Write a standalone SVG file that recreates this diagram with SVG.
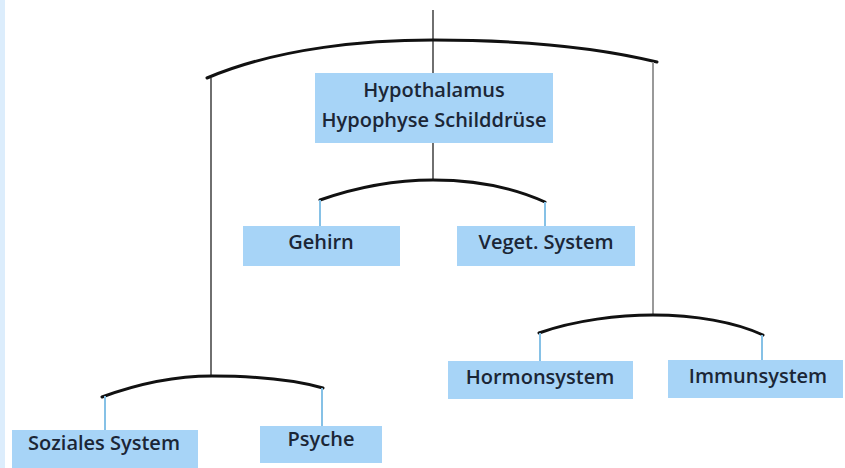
<svg xmlns="http://www.w3.org/2000/svg" width="845" height="468" viewBox="0 0 845 468">
<style>
.box{fill:#a7d4f7}
.lbl{font-family:"Open Sans","Noto Sans","Liberation Sans",sans-serif;font-size:20px;font-weight:600;fill:#1b2636;text-anchor:middle}
.arc{fill:none;stroke:#111;stroke-width:3;stroke-linecap:round}
.vl{fill:none;stroke:#222;stroke-width:1.3}
.vg{fill:none;stroke:#999;stroke-width:2}
.stub{fill:none;stroke:#86c1e6;stroke-width:2}
</style>
<rect x="0" y="0" width="845" height="468" fill="#ffffff"/>
<rect x="0" y="0" width="5" height="468" fill="#dcedfc"/>
<g id="connectors">
<line class="vl" x1="433" y1="10" x2="433" y2="73"/>
<path class="arc" d="M207,78 C280,47 370,40 433,40 C520,40 600,48 657,62"/>
<line class="vl" x1="211" y1="78" x2="211" y2="377"/>
<line class="vg" x1="653" y1="62" x2="653" y2="315"/>
<line class="vl" x1="433" y1="143" x2="433" y2="180"/>
<path class="arc" d="M320,200 C360,186 400,180 433,180 C472,180 512,187 545,202"/>
<line class="stub" x1="320" y1="200" x2="320" y2="226"/>
<line class="stub" x1="545" y1="202" x2="545" y2="226"/>
<path class="arc" d="M539,333 C575,320 620,315 653,315 C695,315 735,322 763,335"/>
<line class="stub" x1="540" y1="333" x2="540" y2="361"/>
<line class="stub" x1="762" y1="335" x2="762" y2="360"/>
<path class="arc" d="M102,397 C140,383 180,376 212,376 C255,376 295,380 323,388"/>
<line class="stub" x1="105" y1="396" x2="105" y2="430"/>
<line class="stub" x1="322" y1="388" x2="322" y2="426"/>
</g>
<g id="hypothalamus">
<rect class="box" x="315" y="73" width="238" height="70"/>
<text class="lbl" x="434" y="97">Hypothalamus</text>
<text class="lbl" x="434" y="127">Hypophyse Schilddrüse</text>
</g>
<g id="gehirn">
<rect class="box" x="243" y="226" width="157" height="40"/>
<text class="lbl" x="321" y="249">Gehirn</text>
</g>
<g id="veget">
<rect class="box" x="457" y="226" width="178" height="40"/>
<text class="lbl" x="546" y="249">Veget. System</text>
</g>
<g id="hormonsystem">
<rect class="box" x="448" y="361" width="185" height="38"/>
<text class="lbl" x="540" y="384">Hormonsystem</text>
</g>
<g id="immunsystem">
<rect class="box" x="668" y="360" width="175" height="38"/>
<text class="lbl" x="758" y="383">Immunsystem</text>
</g>
<g id="soziales">
<rect class="box" x="12" y="430" width="186" height="38"/>
<text class="lbl" x="104" y="450">Soziales System</text>
</g>
<g id="psyche">
<rect class="box" x="260" y="426" width="122" height="37"/>
<text class="lbl" x="321" y="446">Psyche</text>
</g>
</svg>
